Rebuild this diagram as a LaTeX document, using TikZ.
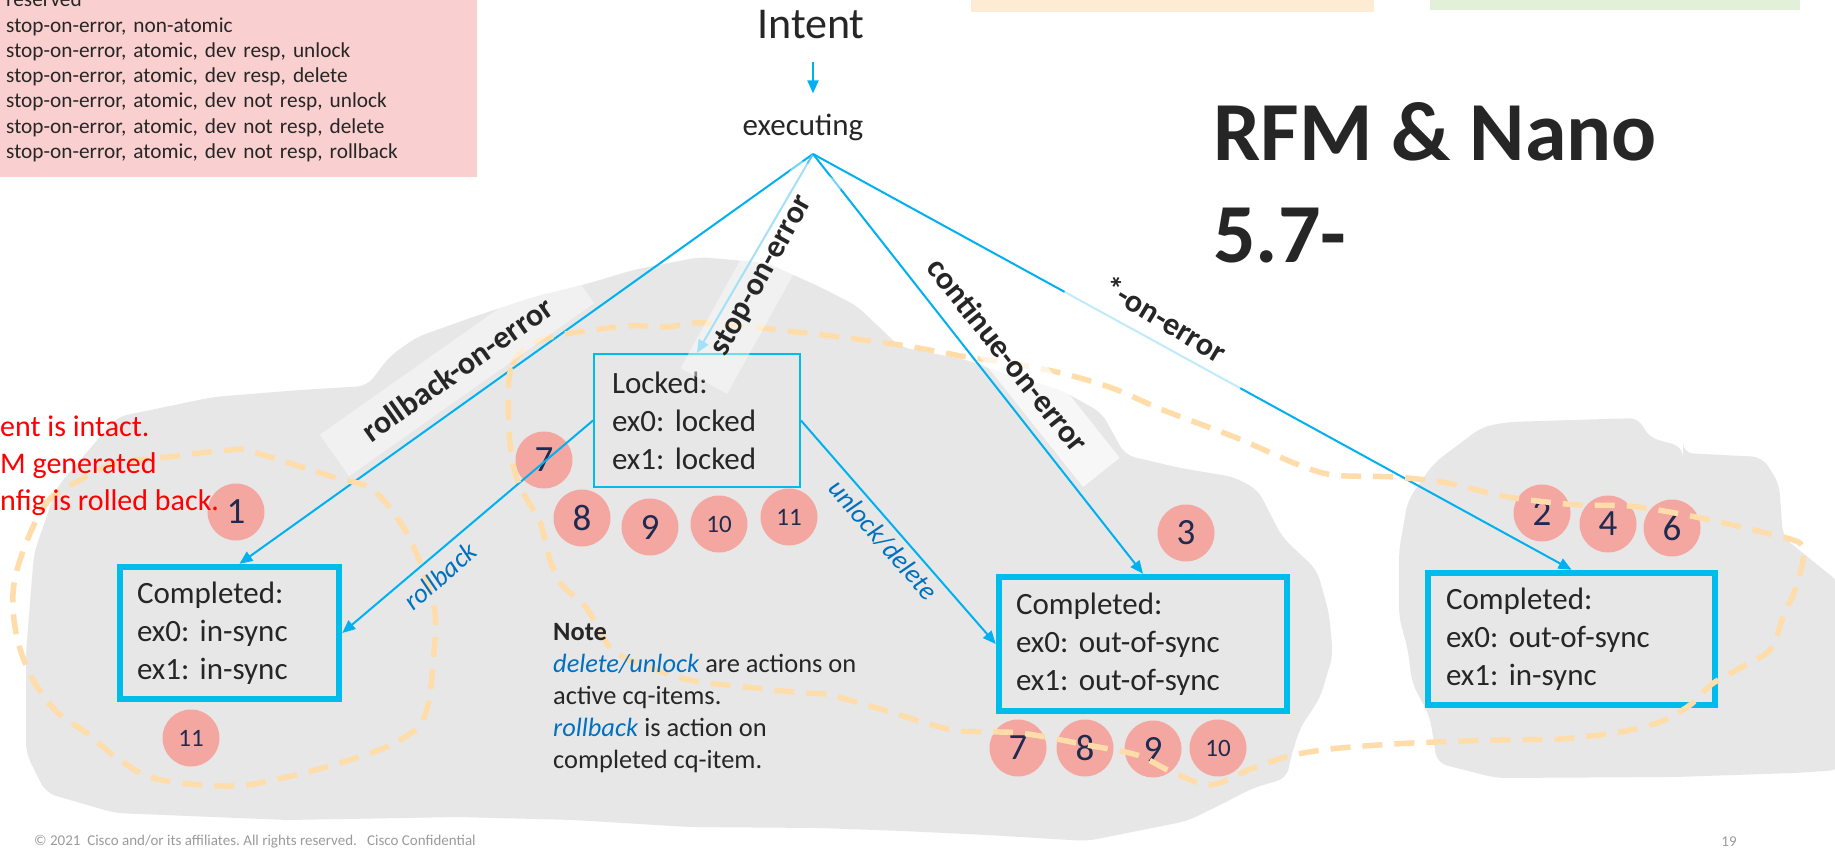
\documentclass[tikz,border=0pt]{standalone}
\usepackage{fontspec}
\setmainfont{Carlito}[PunctuationSpace=0]
\usetikzlibrary{arrows.meta}
\definecolor{pinkbg}{RGB}{249,208,207}
\definecolor{blobgrey}{RGB}{231,231,231}
\definecolor{flowcyan}{RGB}{0,176,240}
\definecolor{stopcyan}{RGB}{90,200,240}
\definecolor{boxcyan}{RGB}{0,188,235}
\definecolor{numfill}{RGB}{244,166,161}
\definecolor{numtext}{RGB}{31,43,78}
\definecolor{trailc}{RGB}{254,221,171}
\definecolor{textc}{RGB}{38,38,38}
\definecolor{actblue}{RGB}{0,112,192}
\definecolor{orangebar}{RGB}{253,235,212}
\definecolor{greenbar}{RGB}{226,240,217}
\definecolor{footgrey}{RGB}{155,155,155}

\begin{document}
\frenchspacing
\begin{tikzpicture}[x=1pt,y=-1pt,
  >={Triangle[length=13pt,width=11pt]},
  flow/.style={draw=flowcyan, line width=2pt},
  done/.style={draw=boxcyan, line width=6.5pt, minimum height=132pt, inner xsep=17pt, align=left, text=textc, font=\fontsize{31}{38}\selectfont},
  num/.style={circle, fill=numfill, minimum size=57pt, inner sep=0pt, text=numtext, font=\fontsize{37}{37}\selectfont},
  numsm/.style={num, font=\fontsize{25}{25}\selectfont},
  tag/.style={fill=white, fill opacity=0.45, text opacity=1, text=textc, font=\bfseries\fontsize{32}{32}\selectfont, inner xsep=14pt, inner ysep=14pt},
  act/.style={text=actblue, font=\itshape\fontsize{27}{27}\selectfont, inner sep=0pt},
  trail/.style={draw=trailc, line width=5.5pt, dash pattern=on 20pt off 12pt}]
\useasboundingbox (0,0) rectangle (1835,848);
\clip (0,0) rectangle (1835,848);
\fill [white] (0,0) rectangle (1835,848);
%\draw [gray, very thin] (0,0) grid [step=100] (1835,848);
\fill [orangebar] (971,0) rectangle (1374,12);
\fill [greenbar] (1430,0) rectangle (1800,10);
\node (legend) [anchor=west, fill=pinkbg, text width=465pt, inner xsep=6pt, minimum height=200pt, align=left, text=textc, font=\fontsize{21.3}{25.3}\selectfont] at (0,77) {reserved\\stop-on-error, non-atomic\\stop-on-error, atomic, dev resp, unlock\\stop-on-error, atomic, dev resp, delete\\stop-on-error, atomic, dev not resp, unlock\\stop-on-error, atomic, dev not resp, delete\\stop-on-error, atomic, dev not resp, rollback};

% grey clouds
\fill [blobgrey, rounded corners=10pt] (26,753) -- (26,653) -- (34,553) -- (57,487) -- (100,437) -- (117,417) -- (213,397) -- (300,390) -- (367,386) -- (390,356) -- (417,337) -- (473,317) -- (533,297) -- (590,283) -- (633,270) -- (700,257) -- (767,263) -- (820,287) -- (857,306) -- (900,347) -- (967,360) -- (1000,372) -- (1061,390) -- (1102,413) -- (1125,455) -- (1180,468) -- (1234,477) -- (1258,490) -- (1282,537) -- (1317,570) -- (1329,613) -- (1333,655) -- (1320,698) -- (1300,728) -- (1290,760) -- (1287,778) -- (1253,788) -- (1220,805) -- (1187,821) -- (1087,841) -- (987,835) -- (903,831) -- (820,828) -- (689,827) -- (574,820) -- (459,817) -- (287,820) -- (115,813) -- (46,793) -- cycle;
\fill [blobgrey, rounded corners=10pt] (1482,427) -- (1508,422) -- (1639,418) -- (1648,437) -- (1683,447) -- (1683,453) -- (1762,457) -- (1779,483) -- (1783,537) -- (1840,583) -- (1840,770) -- (1794,773) -- (1675,777) -- (1496,778) -- (1437,763) -- (1430,717) -- (1412,683) -- (1408,650) -- (1399,617) -- (1399,550) -- (1408,500) -- (1434,463) -- cycle;

% states
\node (intent) [inner sep=0pt, text=textc, font=\fontsize{44}{44}\selectfont] at (811,25) {Intent};
\node (exec) [inner sep=0pt, text=textc, font=\fontsize{31}{31}\selectfont] at (803,127) {executing};
\coordinate (apex) at (813,154);
\node (lock) [done, line width=2pt, text width=170pt, inner xsep=18pt, minimum height=133pt] at (697,420.5) {Locked:\\ex0: locked\\ex1: locked};
\node (done1) [done, text width=185pt] at (229.5,633) {Completed:\\ex0: in-sync\\ex1: in-sync};
\node (done2) [done, text width=254pt, minimum height=134pt] at (1143,644) {Completed:\\ex0: out-of-sync\\ex1: out-of-sync};
\node (done3) [done, text width=251pt, inner xsep=18pt] at (1571.5,639) {Completed:\\ex0: out-of-sync\\ex1: in-sync};

% cq-item numbers
\node (c1) [num] at (236,512) {1};
\node (c11a) [numsm] at (191,738) {11};
\node (c7a) [num] at (544,460) {7};
\node (c8a) [num] at (582,518) {8};
\node (c9a) [num] at (650,527) {9};
\node (c10a) [numsm] at (719,524) {10};
\node (c11b) [numsm] at (789,517) {11};
\node (c3) [num] at (1186,533) {3};
\node (c7b) [num] at (1018,748) {7};
\node (c8b) [num] at (1085,748) {8};
\node (c9b) [num] at (1153,749) {9};
\node (c10b) [numsm] at (1218,748) {10};
\node (c2) [num] at (1542,513) {2};
\node (c4) [num] at (1608,524) {4};
\node (c6) [num] at (1672,528) {6};

% transitions
\draw [flow,->, shorten <=23pt, shorten >=20pt] (intent.south -| apex) -- (exec.north -| apex);
\draw [flow,->] (apex) -- ([xshift=10pt]done1.north);
\draw [flow, draw=stopcyan, ->] (apex) -- (lock.north);
\draw [flow,->] (apex) -- (done2.north);
\draw [flow,->] (apex) -- (done3.north);
\draw [flow,->] (lock.west) -- (done1.east);
\draw [flow,->] (lock.east) -- (done2.west);

% groups
\draw [trail] plot [smooth cycle, tension=0.6] coordinates {(17,570) (45,505) (80,480) (117,463) (160,458) (230,450) (253,452) (333,477) (370,488) (395,515) (415,550) (434,607) (434,653) (425,715) (400,740) (356,758) (287,777) (230,786) (157,779) (120,760) (85,732) (55,710) (28,670) (14,620)};
\draw [trail] plot [smooth cycle, tension=0.5] coordinates {(508,400) (512,365) (530,345) (560,335) (628,326) (667,327) (704,323) (806,333) (900,345) (967,357) (1010,363) (1061,373) (1112,388) (1163,410) (1237,438) (1294,463) (1333,475) (1395,477) (1447,483) (1508,497) (1578,505) (1630,506) (1696,517) (1762,532) (1800,543) (1803,560) (1795,590) (1783,617) (1770,650) (1740,668) (1712,684) (1690,705) (1660,722) (1620,732) (1560,739) (1500,740) (1412,743) (1340,748) (1293,755) (1253,768) (1210,785) (1170,771) (1137,755) (1087,745) (1020,733) (953,730) (887,711) (830,695) (804,693) (746,687) (689,680) (640,664) (612,650) (598,627) (584,605) (562,585) (550,560) (540,522) (520,487) (511,453)};

% labels
\node (tagrb) [tag, rotate=35.2, minimum width=300pt] at (457,369) {rollback-on-error};
\node (tagstop) [tag, rotate=61, minimum width=240pt] at (762,276) {stop-on-error};
\node (tagcont) [tag, rotate=-51.5, minimum width=300pt, inner ysep=12pt, fill opacity=0.7] at (1008,355) {continue-on-error};
\node (tagany) [tag, rotate=-31, minimum width=200pt, minimum height=64pt, fill opacity=0.75] at (1165,319) {*-on-error};
\node (actrb) [act, rotate=41] at (440,576) {rollback};
\node (actul) [act, rotate=-48.5] at (883,540) {unlock/delete};

\node (title) [anchor=base west, inner sep=0pt, text=textc, font=\bfseries\fontsize{84}{84}\selectfont] at (1213,160) {RFM \& Nano};
\node (ver) [anchor=base west, inner sep=0pt, text=textc, font=\bfseries\fontsize{84}{84}\selectfont] at ([yshift=-102pt]title.base west) {5.7-};

\node (lost) [anchor=west, align=left, inner sep=0pt, text=red, font=\fontsize{30}{37}\selectfont] at (0,466) {ent is intact.\\M generated\\nfig is rolled back.};

\node (note) [anchor=west, align=left, inner sep=0pt, text=textc, font=\fontsize{26.4}{32}\selectfont] at (553,698) {\textbf{Note}\\\textcolor{actblue}{\textit{delete/unlock}} are actions on\\active cq-items.\\\textcolor{actblue}{\textit{rollback}} is action on\\completed cq-item.};

\node (foot) [anchor=west, inner sep=0pt, text=footgrey, font=\fontsize{15}{15}\selectfont] at (34,842) {\copyright{} 2021\ \ Cisco and/or its affiliates. All rights reserved.\ \ \ Cisco Confidential};
\node (page) [inner sep=0pt, text=footgrey, font=\fontsize{15}{15}\selectfont] at (1729,842) {19};
\end{tikzpicture}
\end{document}
